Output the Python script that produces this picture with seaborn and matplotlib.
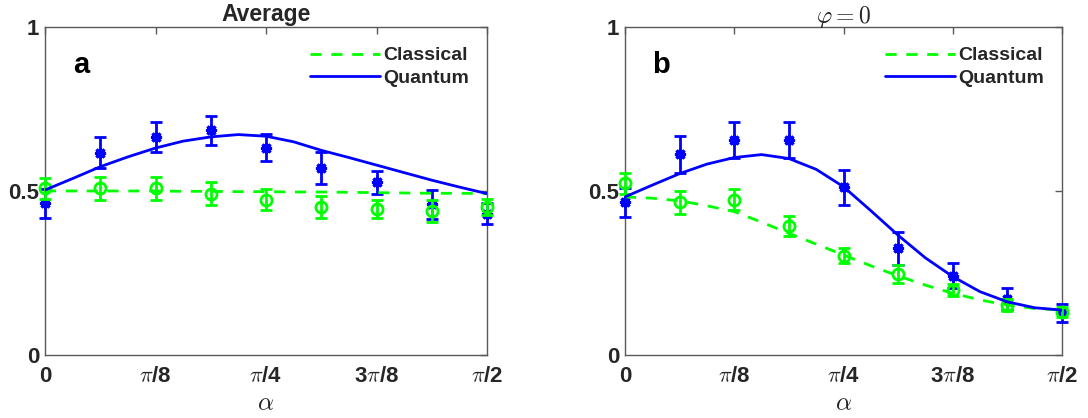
import numpy as np
import pandas as pd
import matplotlib
matplotlib.use("Agg")
import matplotlib.pyplot as plt
import seaborn as sns

sns.set_theme(style="white")
plt.rcParams['font.family'] = ['Liberation Sans', 'DejaVu Sans']
plt.rcParams['mathtext.fontset'] = 'cm'

PI = np.pi
# measurement points: alpha = k*pi/16
k_points = [0, 1, 2, 3, 4, 5, 6, 7, 8]
# theory curves sampled at alpha = j*pi/32
j_curve = list(range(17))

# Panel a (Average)
a_quantum = [0.462, 0.617, 0.665, 0.685, 0.632, 0.569, 0.526, 0.460, 0.431]
a_quantum_err = [0.045, 0.048, 0.045, 0.045, 0.042, 0.049, 0.036, 0.044, 0.032]
a_classical = [0.508, 0.508, 0.508, 0.492, 0.474, 0.451, 0.445, 0.440, 0.452]
a_classical_err = [0.032, 0.036, 0.035, 0.034, 0.031, 0.034, 0.027, 0.033, 0.025]
a_quantum_curve = [0.503, 0.538, 0.574, 0.604, 0.631, 0.652, 0.665, 0.672, 0.667,
                   0.650, 0.624, 0.602, 0.579, 0.556, 0.533, 0.512, 0.492]
a_classical_curve = [0.500, 0.500, 0.500, 0.500, 0.500, 0.499, 0.499, 0.498, 0.498,
                     0.497, 0.497, 0.496, 0.495, 0.494, 0.493, 0.493, 0.492]

# Panel b (phi = 0)
b_quantum = [0.465, 0.612, 0.655, 0.655, 0.511, 0.325, 0.242, 0.170, 0.129]
b_quantum_err = [0.045, 0.057, 0.054, 0.055, 0.054, 0.051, 0.038, 0.034, 0.028]
b_classical = [0.523, 0.465, 0.474, 0.393, 0.303, 0.247, 0.198, 0.152, 0.132]
b_classical_err = [0.033, 0.035, 0.033, 0.030, 0.024, 0.026, 0.017, 0.019, 0.015]
b_quantum_curve = [0.482, 0.518, 0.553, 0.582, 0.602, 0.611, 0.599, 0.566, 0.513,
                   0.440, 0.365, 0.296, 0.239, 0.193, 0.162, 0.144, 0.137]
b_classical_curve = [0.482, 0.478, 0.470, 0.455, 0.437, 0.405, 0.371, 0.338, 0.305,
                     0.272, 0.241, 0.213, 0.188, 0.168, 0.152, 0.142, 0.137]

x_tick_labels = ['0', r'$\pi$/8', r'$\pi$/4', r'3$\pi$/8', r'$\pi$/2']
y_tick_labels = ['0', '0.5', '1']

BLUE = '#0000ff'
GREEN = '#00ff00'
SPINE = '#5a5a5a'

fig = plt.figure(figsize=(10.88, 4.18), dpi=100)
ax_a = fig.add_axes([45/1088, 1-355/418, 442/1088, 328/418])
ax_b = fig.add_axes([625/1088, 1-355/418, 437/1088, 328/418])

panels = [
    (ax_a, a_quantum, a_quantum_err, a_classical, a_classical_err,
     a_quantum_curve, a_classical_curve, 'a'),
    (ax_b, b_quantum, b_quantum_err, b_classical, b_classical_err,
     b_quantum_curve, b_classical_curve, 'b'),
]

for ax, q, qe, c, ce, qc, cc, letter in panels:
    xp = np.array(k_points) * PI / 16
    xc = np.array(j_curve) * PI / 32
    curves = pd.DataFrame({
        'alpha': np.concatenate([xc, xc]),
        'value': qc + cc,
        'kind': ['Quantum'] * len(xc) + ['Classical'] * len(xc),
    })
    ax.errorbar(xp, q, yerr=qe, fmt='none', ecolor=BLUE, elinewidth=2,
                capsize=4.5, capthick=2, clip_on=False, zorder=3)
    ax.plot(xp, q, linestyle='none', marker=(8, 2, 0), markersize=8,
            markeredgewidth=2.2, color=BLUE, clip_on=False, zorder=3)
    ax.errorbar(xp, c, yerr=ce, fmt='none', ecolor=GREEN, elinewidth=2,
                capsize=4.5, capthick=2, clip_on=False, zorder=4)
    ax.plot(xp, c, linestyle='none', marker='o', markersize=8,
            markerfacecolor='none', markeredgewidth=2, color=GREEN,
            clip_on=False, zorder=4)
    sns.lineplot(data=curves[curves.kind == 'Classical'], x='alpha', y='value',
                 ax=ax, color=GREEN, linewidth=2, label='Classical', zorder=5)
    sns.lineplot(data=curves[curves.kind == 'Quantum'], x='alpha', y='value',
                 ax=ax, color=BLUE, linewidth=2, label='Quantum', zorder=5)
    ax.lines[-2].set_dashes([4, 3.5])

    ax.set_xlim(0, PI / 2)
    ax.set_ylim(0, 1)
    ax.set_xticks([0, PI / 8, PI / 4, 3 * PI / 8, PI / 2])
    ax.set_xticklabels(x_tick_labels, fontsize=16, fontweight='bold')
    ax.set_yticks([0, 0.5, 1])
    ax.set_yticklabels(y_tick_labels, fontsize=16, fontweight='bold')
    ax.tick_params(axis='both', direction='in', length=5, width=1,
                   color=SPINE, top=True, right=True, labelcolor='#262626')
    ax.tick_params(axis='x', pad=8)
    ax.tick_params(axis='y', pad=4)
    for s in ax.spines.values():
        s.set_visible(True)
        s.set_color(SPINE)
        s.set_linewidth(1)
    ax.set_xlabel(r'$\alpha$', fontsize=18, labelpad=3)
    ax.set_ylabel('')
    ax.text(0.063, 0.86, letter, transform=ax.transAxes, fontsize=21,
            fontweight='bold', color='black')
    leg = ax.legend(loc='upper right', bbox_to_anchor=(0.985, 0.975),
                    frameon=False, handlelength=3.6, handletextpad=0.15,
                    labelspacing=0.25, borderaxespad=0.2,
                    prop={'size': 14, 'weight': 'bold'})
    leg.get_lines()[0].set_dashes([4, 3.5])

ax_a.set_title('Average', fontsize=16.5, fontweight='bold', pad=4)
ax_b.set_title(r'$\varphi = 0$', fontsize=17, pad=3)

fig.savefig('out.png', dpi=100)
